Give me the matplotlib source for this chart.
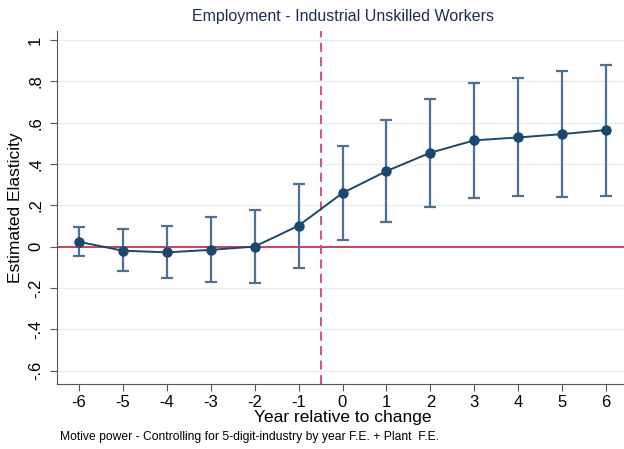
import numpy as np
import matplotlib
matplotlib.use("Agg")
import matplotlib.pyplot as plt

plt.rcParams["font.family"] = ["Liberation Sans", "DejaVu Sans"]

years = [-6, -5, -4, -3, -2, -1, 0, 1, 2, 3, 4, 5, 6]
coef = [0.024, -0.019, -0.027, -0.015, 0.001, 0.102, 0.26, 0.366, 0.455, 0.515, 0.529, 0.545, 0.565]
ci_hi = [0.095, 0.084, 0.100, 0.144, 0.179, 0.303, 0.489, 0.613, 0.716, 0.790, 0.815, 0.850, 0.881]
ci_lo = [-0.045, -0.119, -0.152, -0.169, -0.176, -0.102, 0.032, 0.119, 0.194, 0.237, 0.244, 0.242, 0.248]
yticks = [-0.6, -0.4, -0.2, 0, 0.2, 0.4, 0.6, 0.8, 1]
ytick_labels = ["-.6", "-.4", "-.2", "0", ".2", ".4", ".6", ".8", "1"]

navy = "#1a476f"
bar_col = "#4d7194"

fig = plt.figure(figsize=(6.24, 4.49), dpi=100)
ax = fig.add_axes([57 / 624, 65 / 449, 571 / 624, 353 / 449])

ax.set_xlim(-6.5, 6.5)
ax.set_ylim(-0.664, 1.044)

ax.grid(True, axis="y", color="#e6eef0", linewidth=1)
ax.set_axisbelow(True)

ax.axhline(0, color="#c1123f", linewidth=1.1, zorder=2)
ax.axvline(-0.5, color="#d2466b", linewidth=1.3, linestyle=(0, (5, 3)), zorder=2)

yerr = [np.array(coef) - np.array(ci_lo), np.array(ci_hi) - np.array(coef)]
ax.errorbar(years, coef, yerr=yerr, fmt="none", ecolor=bar_col, elinewidth=1.6,
            capsize=4, capthick=1.6, zorder=3)
ax.plot(years, coef, color=navy, linewidth=1.4, marker="o", markersize=6.5, zorder=4)

ax.set_xticks(years)
ax.set_xticklabels([str(y) for y in years], fontsize=12)
ax.set_yticks(yticks)
ax.set_yticklabels(ytick_labels, fontsize=12, rotation=90, va="center")

for s in ["top", "right"]:
    ax.spines[s].set_visible(False)
ax.spines["left"].set_color("#555555")
ax.spines["bottom"].set_color("#555555")
ax.tick_params(axis="x", length=5, color="#555555", pad=3)
ax.tick_params(axis="y", length=5, color="#555555", pad=5)

ax.set_xlabel("Year relative to change", fontsize=12.5, labelpad=0)
ax.set_ylabel("Estimated Elasticity", fontsize=12.5, labelpad=4)
ax.set_title("Employment - Industrial Unskilled Workers", fontsize=11.5,
             color="#1f2d56", pad=7)

fig.text(60 / 624, 1 - 437 / 449, "Motive power - Controlling for 5-digit-industry by year F.E. + Plant  F.E.",
         fontsize=8.7, va="center", ha="left")

fig.savefig("out.png", dpi=100)
